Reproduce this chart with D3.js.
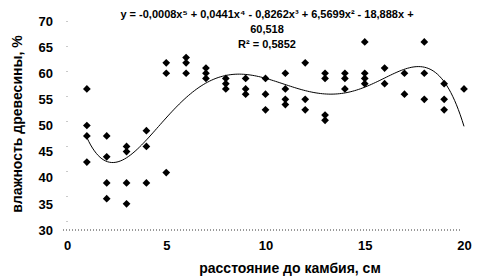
<!DOCTYPE html>
<html><head><meta charset="utf-8">
<script src="https://cdn.jsdelivr.net/npm/d3@7/dist/d3.min.js"></script>
<style>body{margin:0;background:#fff}svg{display:block}text{font-family:"Liberation Sans",Arial,sans-serif;font-weight:bold;fill:#000}</style>
</head><body><svg id="c" width="479" height="279"></svg>
<script>
const xValues = [1,1,1,1, 2,2,2,2, 3,3,3,3, 4,4,4, 5,5,5, 6,6,6, 7,7,7, 8,8,8, 9,9,9, 10,10,10, 11,11,11,11, 12,12,12, 13,13,13,13, 14,14,14, 15,15,15,15, 16,16, 17,17, 18,18,18, 19,19,19, 20];
const yValues = [57,50,48,43, 48,44,39,36, 46,45,39,35, 49,46,39, 62,60,41, 63,62,60, 61,60,59, 59,58,57, 59,57,56, 59,56,53, 60,57,55,54, 62,55,53, 60,59,52,51, 60,59,57, 66,60,59,58, 61,58, 60,56, 66,60,55, 58,55,53, 57];
const xTicks = [0,5,10,15,20];
const yTicks = [30,35,40,45,50,55,60,65,70];
const xTitle = "расстояние до камбия, см";
const yTitle = "влажность древесины, %";
const equationLines = ["y = -0,0008x⁵ + 0,0441x⁴ - 0,8262x³ + 6,5699x² - 18,888x +", "60,518", "R² = 0,5852"];

const svg = d3.select("#c");
const x = d3.scaleLinear().domain([0,20]).range([67,464]);
const y = d3.scaleLinear().domain([30,70]).range([230,21]);

// axes (faint dotted lines as in scan)
svg.append("line").attr("x1",63).attr("x2",462).attr("y1",y(30)).attr("y2",y(30))
  .attr("stroke","#000").attr("stroke-width",0.8).attr("stroke-dasharray","1,2");
svg.append("line").attr("x1",x(0)).attr("x2",x(0)).attr("y1",y(70)).attr("y2",y(30))
  .attr("stroke","#000").attr("stroke-width",0.6).attr("stroke-dasharray","1,24").attr("stroke-opacity",0.7);

const yAxis = svg.append("g").attr("transform",`translate(${x(0)},0)`)
  .call(d3.axisLeft(y).tickValues(yTicks).tickSize(0).tickPadding(14));
yAxis.select(".domain").remove();
yAxis.selectAll("text").attr("font-size",13).attr("font-family","Liberation Sans").attr("font-weight","bold");

const xAxis = svg.append("g").attr("transform",`translate(0,${y(30)})`)
  .call(d3.axisBottom(x).tickValues(xTicks).tickSize(0).tickPadding(11));
xAxis.select(".domain").remove();
xAxis.selectAll("text").attr("font-size",13).attr("font-family","Liberation Sans").attr("font-weight","bold");

svg.append("text").attr("x",290).attr("y",273).attr("text-anchor","middle").attr("font-size",14).text(xTitle);
svg.append("text").attr("transform","translate(22,124) rotate(-90)").attr("text-anchor","middle").attr("font-size",14).text(yTitle);

// polynomial (degree 5) least-squares trendline computed from data
function polyfit(xs, ys, deg){
  const n = deg+1, s = 10;
  const A = Array.from({length:n},()=>Array(n+1).fill(0));
  xs.forEach((xv,i)=>{
    const t = xv/s;
    for(let r=0;r<n;r++){
      for(let c=0;c<n;c++) A[r][c]+=Math.pow(t,r+c);
      A[r][n]+=ys[i]*Math.pow(t,r);
    }
  });
  for(let i=0;i<n;i++){
    let p=i; for(let k=i+1;k<n;k++) if(Math.abs(A[k][i])>Math.abs(A[p][i])) p=k;
    [A[i],A[p]]=[A[p],A[i]];
    for(let k=i+1;k<n;k++){const f=A[k][i]/A[i][i]; for(let c=i;c<=n;c++) A[k][c]-=f*A[i][c];}
  }
  const co=Array(n).fill(0);
  for(let i=n-1;i>=0;i--){let v=A[i][n]; for(let c=i+1;c<n;c++) v-=A[i][c]*co[c]; co[i]=v/A[i][i];}
  return xv=>{const t=xv/s; return co.reduce((a,c,i)=>a+c*Math.pow(t,i),0);};
}
const f = polyfit(xValues, yValues, 5);
const xMin = d3.min(xValues), xMax = d3.max(xValues);
const curve = d3.range(0,201).map(i=>xMin+(xMax-xMin)*i/200);
svg.append("path").datum(curve)
  .attr("d", d3.line().x(d=>x(d)).y(d=>y(f(d))).curve(d3.curveLinear))
  .attr("fill","none").attr("stroke","#000").attr("stroke-width",1);

// markers
const diamond = d3.symbol().type(d3.symbolSquare).size(30)();
svg.append("g").selectAll("path").data(xValues.map((v,i)=>[v,yValues[i]])).join("path")
  .attr("d",diamond).attr("transform",d=>`translate(${x(d[0])},${y(d[1])}) rotate(45)`).attr("fill","#000");

// equation
const eq = svg.append("text").attr("text-anchor","middle").attr("font-size",11);
equationLines.forEach((l,i)=>eq.append("tspan").attr("x",267).attr("y",18+i*15).text(l));
</script></body></html>
